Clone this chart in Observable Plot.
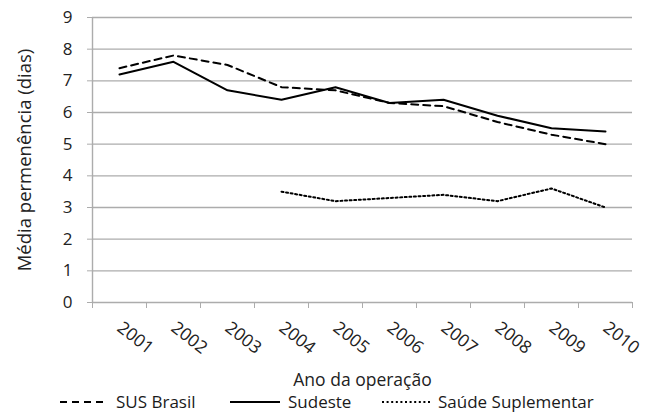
<!DOCTYPE html>
<html><head><meta charset="utf-8">
<script src="https://cdn.jsdelivr.net/npm/d3@7"></script>
<script src="https://cdn.jsdelivr.net/npm/@observablehq/plot@0.6"></script>
<style>
body{margin:0;background:#fff;font-family:"Open Sans",sans-serif;}
#chart svg{display:block;}
#legend{position:relative;height:21px;width:650px;font-size:17px;line-height:20px;color:#1a1a1a;}
#legend .item{position:absolute;top:-2px;display:flex;align-items:center;white-space:nowrap;}
#legend svg{margin-right:8px;}
</style></head><body>
<div id="chart"></div>
<div id="legend"></div>
<script>
const years = [2001, 2002, 2003, 2004, 2005, 2006, 2007, 2008, 2009, 2010];
const susBrasil = [7.4, 7.8, 7.5, 6.8, 6.7, 6.3, 6.2, 5.7, 5.3, 5.0];
const sudeste = [7.2, 7.6, 6.7, 6.4, 6.8, 6.3, 6.4, 5.9, 5.5, 5.4];
const saudeSuplementar = [null, null, null, 3.5, 3.2, 3.3, 3.4, 3.2, 3.6, 3.0];
const seriesNames = ["SUS Brasil", "Sudeste", "Saúde Suplementar"];
const yTicks = [0, 1, 2, 3, 4, 5, 6, 7, 8, 9];
const yTitle = "Média permenência (dias)";
const xTitle = "Ano da operação";

const dashes = ["7,5", null, "2,2.6"];
const seriesValues = [susBrasil, sudeste, saudeSuplementar];
const rows = [];
seriesNames.forEach((name, s) => years.forEach((yr, i) => {
  const v = seriesValues[s][i];
  if (v != null) rows.push({series: name, year: yr, value: v});
}));

const boundaries = years.map(y => y - 0.5).concat([years[years.length - 1] + 0.5]);
const gridColor = "#acacac";
const textColor = "#222";

const chart = Plot.plot({
  width: 650,
  height: 394,
  marginLeft: 92,
  marginRight: 18,
  marginTop: 17,
  marginBottom: 92,
  style: {fontFamily: "Open Sans, sans-serif", fontSize: "16px", color: textColor, background: "#fff"},
  x: {type: "linear", domain: [boundaries[0], boundaries[boundaries.length - 1]]},
  y: {domain: [0, 9]},
  marks: [
    Plot.gridY(yTicks, {stroke: gridColor, strokeOpacity: 1, strokeWidth: 1.4}),
    Plot.ruleX([boundaries[0]], {stroke: gridColor, strokeWidth: 1.4}),
    Plot.axisY({ticks: yTicks, tickSize: 5, tickPadding: 15, stroke: gridColor, strokeOpacity: 1, fontSize: 17, label: null}),
    Plot.axisY({ticks: [], tickSize: 0, fontSize: 18.5,
      label: yTitle, labelAnchor: "center", labelArrow: "none", labelOffset: 75}),
    Plot.axisX({ticks: boundaries, tickSize: 6, tickFormat: () => "", stroke: gridColor, strokeOpacity: 1, label: null}),
    Plot.axisX({ticks: years, tickSize: 0, tickPadding: 23, tickRotate: 38, tickFormat: d => String(d), fontSize: 17.5,
      label: xTitle, labelAnchor: "center", labelArrow: "none", labelOffset: 83}),
    ...seriesNames.map((name, s) => Plot.line(rows.filter(r => r.series === name), {
      x: "year", y: "value", stroke: "#000", strokeWidth: 2, strokeDasharray: dashes[s]
    }))
  ]
});
document.getElementById("chart").appendChild(chart);

const legend = document.getElementById("legend");
const lefts = [60, 230, 382];
seriesNames.forEach((name, s) => {
  const item = document.createElement("div");
  item.className = "item";
  item.style.left = lefts[s] + "px";
  const sw = s === 1 ? 50 : 48;
  item.innerHTML = `<svg width="${sw}" height="20"><line x1="0" x2="${sw}" y1="10" y2="10" stroke="#000" stroke-width="2" ${dashes[s] ? `stroke-dasharray="${dashes[s]}"` : ""}/></svg><span>${name}</span>`;
  legend.appendChild(item);
});
</script>
</body></html>
